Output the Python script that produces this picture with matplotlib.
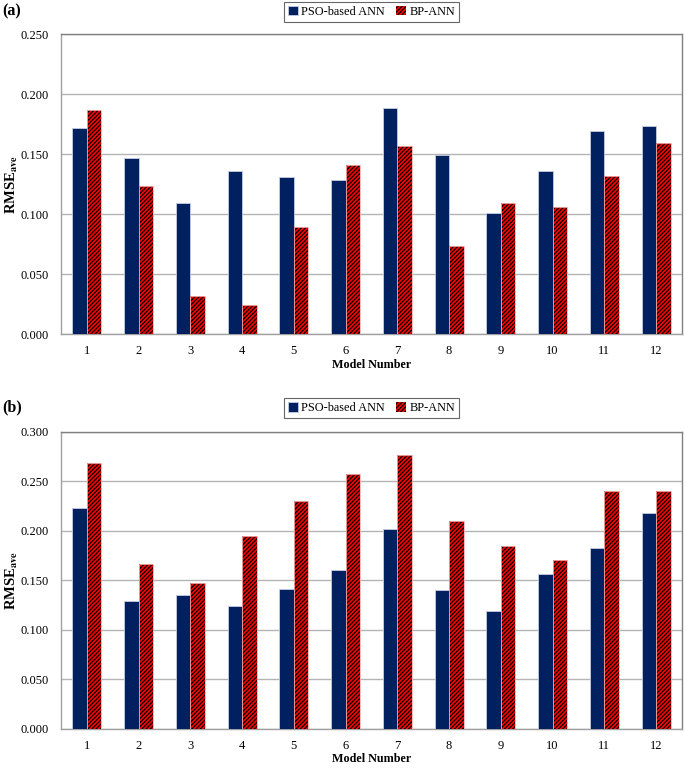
import matplotlib
matplotlib.use('Agg')
import matplotlib.pyplot as plt
import numpy as np

plt.rcParams['font.family'] = ['Liberation Serif', 'DejaVu Serif']
plt.rcParams['mathtext.fontset'] = 'stix'
plt.rcParams['hatch.linewidth'] = 0.9
plt.rcParams['hatch.color'] = 'black'

models = [str(i) for i in range(1, 13)]
series_names = ['PSO-based ANN', 'BP-ANN']

# panel (a)
pso_a = [0.172, 0.147, 0.109, 0.136, 0.131, 0.128, 0.188, 0.149, 0.101, 0.136, 0.169, 0.173]
bp_a = [0.187, 0.123, 0.032, 0.024, 0.089, 0.141, 0.157, 0.073, 0.109, 0.106, 0.132, 0.159]
yticks_a = [0.0, 0.05, 0.10, 0.15, 0.20, 0.25]

# panel (b)
pso_b = [0.223, 0.129, 0.135, 0.124, 0.141, 0.160, 0.202, 0.140, 0.119, 0.156, 0.183, 0.218]
bp_b = [0.268, 0.166, 0.147, 0.195, 0.230, 0.257, 0.277, 0.210, 0.185, 0.171, 0.240, 0.240]
yticks_b = [0.0, 0.05, 0.10, 0.15, 0.20, 0.25, 0.30]

navy = '#002060'
red = '#ff0000'

fig = plt.figure(figsize=(6.85, 7.68), dpi=100)
ax_a = fig.add_axes([0.089, 0.565, 0.9066, 0.3906])
ax_b = fig.add_axes([0.089, 0.051, 0.9066, 0.3868])


def draw_panel(ax, pso, bp, yticks, tag, legend_y):
    x = np.arange(len(models))
    w = 0.28
    ax.bar(x - w / 2, pso, w, color=navy, edgecolor='#c8cde0', linewidth=0.6,
           zorder=3, label=series_names[0])
    ax.bar(x + w / 2, bp, w, color=red, edgecolor='black', hatch='////////',
           linewidth=0, zorder=3, label=series_names[1])
    ax.bar(x + w / 2, bp, w, color='none', edgecolor='#f4b0b0', linewidth=0.6,
           zorder=4)
    ax.set_xlim(-0.5, len(models) - 0.5)
    ax.set_ylim(yticks[0], yticks[-1])
    ax.set_yticks(yticks)
    ax.set_yticklabels(['%.3f' % v for v in yticks])
    ax.set_xticks(x)
    ax.set_xticklabels(models)
    ax.tick_params(length=0, labelsize=9)
    ax.tick_params(axis='y', pad=9)
    ax.tick_params(axis='x', pad=8)
    ax.grid(axis='y', color='#b4b4b4', linewidth=1.0, zorder=0)
    for s in ax.spines.values():
        s.set_color('#a0a0a0')
        s.set_linewidth(1.0)
    ax.spines['top'].set_color('#808080')
    ax.spines['right'].set_color('#808080')
    ax.set_xlabel('Model Number', fontsize=8.7, fontweight='bold', labelpad=1)
    ax.set_ylabel(r'RMSE$_{\mathbf{ave}}$', fontsize=10.5, fontweight='bold')
    ax.yaxis.set_label_coords(-0.066, 0.5)
    leg = ax.legend(loc='lower center', bbox_to_anchor=(0.5, legend_y), ncol=2,
                    fontsize=8.8, frameon=True, fancybox=False, edgecolor='#404040',
                    handlelength=0.8, handleheight=0.8, handletextpad=0.3,
                    columnspacing=0.9, borderpad=0.35, borderaxespad=0)
    leg.get_frame().set_linewidth(0.8)
    ax.text(-0.095, legend_y + 0.01, tag, transform=ax.transAxes,
            fontsize=11.5, fontweight='bold', va='bottom', ha='left')


draw_panel(ax_a, pso_a, bp_a, yticks_a, '(a)', 1.04)
draw_panel(ax_b, pso_b, bp_b, yticks_b, '(b)', 1.045)

fig.savefig('out.png', dpi=100)
